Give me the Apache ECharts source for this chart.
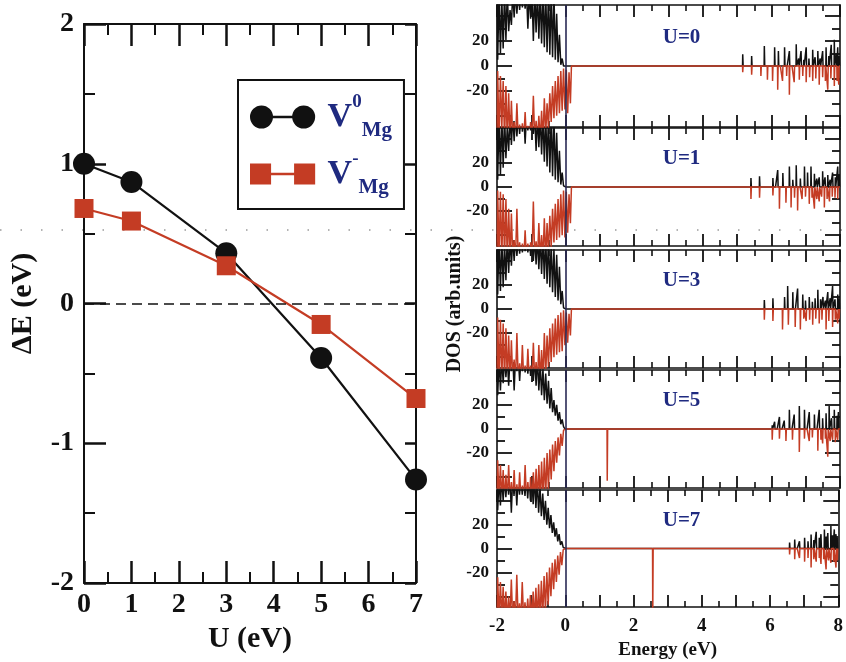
<!DOCTYPE html>
<html><head><meta charset="utf-8">
<script src="https://cdn.jsdelivr.net/npm/echarts@6/dist/echarts.min.js"></script>
<style>html,body{margin:0;padding:0;background:#fff}#c{width:846px;height:662px}</style>
</head><body><div id="c"></div>
<script>
// ---------------- data: left panel ----------------
const uValues   = [0, 1, 3, 5, 7];
const dENeutral = [1.00, 0.87, 0.36, -0.39, -1.26];   // V^0_Mg
const dECharged = [0.68, 0.59, 0.27, -0.15, -0.68];   // V^-_Mg

// ---------------- data: DOS panels ----------------
const panelLabels = ['U=0', 'U=1', 'U=3', 'U=5', 'U=7'];
const vbStart = -2.0, vbStep = 0.04;   // energy grid of the valence-band samples
// valence band, spin up (black)
const upU0 = [60,5,60,10,55,14,60,21,60,28,45,33,60,39,60,42,60,45,60,47,60,46,60,30,60,38,60,20,60,27,60,22,60,18,60,15,60,11,60,9,60,7,60,5,42,3,25,1,6,0,0];
const upU1 = [60,6,60,10,60,16,60,24,50,30,60,35,60,38,60,42,60,44,60,46,60,36,60,47,60,47,60,44,60,30,60,33,60,27,60,21,60,17,60,12,60,9,60,6,45,4,30,2,12,1,0];
const upU3 = [60,12,60,15,60,18,55,24,60,30,60,36,60,40,60,44,60,46,60,47,60,48,60,47,60,44,60,40,60,37,60,33,60,29,60,25,60,21,60,18,55,14,50,10,45,7,35,4,15,1,0];
const upU5 = [60,28,60,32,60,38,60,43,60,36,60,48,60,32,60,48,60,40,60,48,60,47,60,46,60,44,60,40,60,36,60,32,55,28,50,24,46,21,40,17,34,14,24,11,20,7,14,4,8,2,0];
const upU7 = [60,32,60,36,60,40,60,43,60,45,60,30,60,46,60,36,60,45,60,45,60,44,60,42,60,40,60,37,60,34,58,30,52,27,46,24,40,20,34,17,28,13,22,10,17,6,12,3,6,1,0];
// valence band, spin down (red)
const dnU0 = [-60,-4,-60,-8,-50,-12,-60,-16,-60,-22,-60,-28,-60,-45,-60,-30,-60,-47,-60,-46,-60,-37,-60,-48,-60,-45,-60,-24,-60,-44,-60,-40,-60,-36,-60,-26,-55,-30,-50,-22,-45,-16,-42,-12,-40,-8,-38,-4,-36,-2,-35,-3,-38,-5,-30];
const dnU1 = [-60,-3,-60,-4,-60,-6,-60,-10,-60,-18,-60,-22,-60,-44,-60,-18,-60,-46,-60,-47,-60,-36,-60,-47,-60,-46,-60,-12,-60,-45,-60,-30,-60,-40,-60,-26,-60,-30,-55,-24,-50,-18,-46,-14,-44,-10,-42,-6,-40,-3,-42,-4,-38,-6,-30];
const dnU3 = [-60,-7,-60,-9,-60,-12,-60,-16,-60,-22,-60,-26,-60,-42,-60,-20,-60,-45,-60,-30,-60,-47,-60,-33,-60,-47,-60,-28,-60,-44,-60,-30,-60,-34,-58,-20,-55,-22,-48,-16,-44,-12,-40,-8,-38,-5,-36,-3,-35,-1,-30,-3,-28,-4,-22];
const dnU5 = [-60,-26,-60,-30,-60,-34,-60,-38,-60,-30,-60,-44,-60,-34,-60,-46,-60,-36,-60,-47,-60,-30,-60,-44,-60,-40,-60,-36,-60,-33,-60,-30,-60,-27,-58,-24,-55,-20,-50,-17,-42,-13,-35,-10,-28,-7,-22,-4,-14,-1,0];
const dnU7 = [-60,-24,-60,-28,-60,-32,-60,-36,-60,-40,-60,-26,-60,-44,-60,-22,-60,-46,-60,-28,-60,-45,-60,-42,-60,-39,-60,-36,-60,-33,-60,-30,-60,-27,-57,-23,-52,-20,-47,-16,-40,-12,-34,-9,-28,-6,-22,-3,-14,-1,0];
// conduction band / gap states: [energy, DOS] peaks
const cbUpU0 = [[5.17,9.5],[5.43,8],[5.80,16],[6.10,15],[6.21,12],[6.39,15],[6.53,12],[6.73,17.5],[6.80,6],[6.87,12],[6.95,5],[7.02,15],[7.10,6],[7.21,13],[7.28,7],[7.36,12],[7.43,6],[7.50,12],[7.60,15],[7.68,8],[7.75,17],[7.84,21],[7.90,10],[7.94,15],[7.98,8]];
const cbDnU0 = [[5.17,-5],[5.43,-7],[5.70,-8],[5.89,-11],[6.04,-12],[6.19,-19],[6.33,-12],[6.45,-8],[6.53,-23],[6.67,-13],[6.82,-11],[6.92,-8],[7.02,-13],[7.12,-9],[7.21,-12],[7.30,-10],[7.40,-15],[7.50,-9],[7.58,-12],[7.65,-19],[7.74,-10],[7.84,-16],[7.92,-12],[7.97,-15]];
const cbUpU1 = [[5.41,7.5],[5.66,9],[6.05,7.5],[6.19,14],[6.34,11.6],[6.53,17],[6.63,6],[6.73,18],[6.85,7],[6.97,17],[7.06,12],[7.16,17],[7.26,11],[7.33,7],[7.40,8],[7.50,13],[7.57,8],[7.65,10],[7.72,6],[7.79,12],[7.87,8],[7.94,17],[7.98,10]];
const cbDnU1 = [[5.41,-10],[5.66,-9],[6.05,-7],[6.24,-18],[6.43,-13],[6.58,-17],[6.68,-9],[6.77,-19.5],[6.90,-10],[7.00,-8],[7.11,-14],[7.19,-9],[7.26,-18],[7.33,-10],[7.40,-12],[7.47,-8],[7.55,-17],[7.63,-10],[7.70,-12],[7.78,-8],[7.86,-9],[7.94,-10]];
const cbUpU3 = [[5.80,7.5],[6.05,9],[6.39,10],[6.48,19],[6.63,14],[6.77,17],[6.92,12],[7.00,7],[7.11,10],[7.20,6],[7.28,9],[7.36,16],[7.44,8],[7.51,10],[7.58,7],[7.65,14],[7.72,9],[7.79,19],[7.86,8],[7.94,12],[7.98,9]];
const cbDnU3 = [[5.80,-9],[6.05,-10],[6.33,-17],[6.50,-13],[6.70,-15],[6.85,-17],[6.95,-8],[7.02,-10],[7.12,-9],[7.21,-13],[7.30,-8],[7.40,-12],[7.48,-9],[7.60,-17],[7.68,-10],[7.79,-15],[7.87,-9],[7.94,-12],[7.98,-8]];
const cbUpU5 = [[6.03,3],[6.10,6],[6.24,10],[6.38,7],[6.53,16],[6.67,12],[6.82,19],[6.97,16],[7.11,14],[7.26,12],[7.40,16],[7.50,9],[7.60,13],[7.69,19],[7.76,9],[7.84,16],[7.92,11],[7.96,14]];
const cbDnU5 = [[1.22,-43],[6.03,-9],[6.24,-8],[6.43,-10],[6.62,-9],[6.82,-19],[6.97,-8],[7.11,-10],[7.20,-7],[7.36,-18],[7.45,-9],[7.50,-12],[7.58,-8],[7.65,-23],[7.72,-10],[7.79,-9],[7.87,-11],[7.94,-9]];
const cbUpU7 = [[6.58,5],[6.73,7.5],[6.87,6],[7.02,9],[7.12,6],[7.21,11.7],[7.29,7],[7.36,14],[7.45,9],[7.50,12],[7.60,16],[7.65,10],[7.70,13],[7.79,19],[7.84,11],[7.89,16],[7.94,12],[7.98,9]];
const cbDnU7 = [[2.57,-60],[6.58,-5],[6.73,-9],[6.87,-8],[7.02,-11],[7.12,-8],[7.21,-16],[7.29,-9],[7.36,-11],[7.45,-8],[7.50,-13],[7.58,-9],[7.65,-17.5],[7.72,-10],[7.79,-12],[7.87,-11],[7.94,-16],[7.98,-10]];
const dosMajorTicks = [-40, -20, 0, 20, 40];
const dosMinorTicks = [-30, -10, 10, 30];
const dosLabelTicks = [-20, 0, 20];

const upVB = [upU0, upU1, upU3, upU5, upU7];
const dnVB = [dnU0, dnU1, dnU3, dnU5, dnU7];
const upCB = [cbUpU0, cbUpU1, cbUpU3, cbUpU5, cbUpU7];
const dnCB = [cbDnU0, cbDnU1, cbDnU3, cbDnU5, cbDnU7];

// ---------------- layout / style ----------------
const SERIF = '"Liberation Serif", "DejaVu Serif", serif';
const INK = '#111111', RED = '#c43c24', NAVY = '#1f2a80';
const L = {left: 84, top: 24, width: 332, height: 559};
const D = {left: 497, width: 343, tops: [5, 128, 250, 370, 490], heights: [122, 118, 118, 118, 117]};
const DOS_MIN = -49, DOS_MAX = 49;

function buildDos(vb, cb) {
  const d = [];
  vb.forEach((v, i) => d.push([+(vbStart + vbStep * i).toFixed(2), v]));
  const lastE = vbStart + vbStep * (vb.length - 1);
  d.push([+(lastE + 0.02).toFixed(2), 0]);
  cb.forEach(([e, h]) => { d.push([e - 0.012, 0], [e, h], [e + 0.012, 0]); });
  d.push([8, 0]);
  return d;
}

const grids = [{left: L.left, top: L.top, width: L.width, height: L.height}];
D.tops.forEach((t, i) => grids.push({left: D.left, top: t, width: D.width, height: D.heights[i]}));

function leftAxis(kind, pos, majorLen, minorLen, extra) {
  const base = {gridIndex: 0, type: 'value', position: pos,
    axisLine: {show: true, onZero: false, lineStyle: {color: INK, width: 2}}, splitLine: {show: false},
    axisTick: {show: true, inside: true, length: majorLen, lineStyle: {color: INK, width: 2.5}},
    minorTick: {show: true, splitNumber: 2, length: minorLen, lineStyle: {color: INK, width: 2}},
    axisLabel: {show: false}};
  if (kind === 'x') Object.assign(base, {min: 0, max: 7, interval: 1});
  else Object.assign(base, {min: -2, max: 2, interval: 1});
  return Object.assign(base, extra || {});
}
const xAxes = [
  leftAxis('x', 'bottom', 22, 11, {
    axisLabel: {show: true, fontFamily: SERIF, fontWeight: 'bold', fontSize: 28, color: INK, margin: 8},
    name: 'U (eV)', nameLocation: 'middle', nameGap: 38,
    nameTextStyle: {fontFamily: SERIF, fontWeight: 'bold', fontSize: 30, color: INK}}),
  leftAxis('x', 'top', 22, 11)
];
const yAxes = [
  leftAxis('y', 'left', 22, 11, {
    axisLabel: {show: true, fontFamily: SERIF, fontWeight: 'bold', fontSize: 28, color: INK, margin: 10},
    name: 'ΔE (eV)', nameLocation: 'middle', nameGap: 46, nameRotate: 90,
    nameTextStyle: {fontFamily: SERIF, fontWeight: 'bold', fontSize: 30, color: INK}}),
  leftAxis('y', 'right', 11, 11)
];
const thin = {show: true, onZero: false, lineStyle: {color: INK, width: 1.6}};
const series = [
  {type: 'line', name: 'V0', xAxisIndex: 0, yAxisIndex: 0,
   data: uValues.map((u, i) => [u, dENeutral[i]]),
   symbol: 'circle', symbolSize: 22, itemStyle: {color: INK}, lineStyle: {color: INK, width: 2.2},
   markLine: {silent: true, symbol: ['none', 'none'], label: {show: false},
     lineStyle: {color: INK, type: [10, 6], width: 1.6}, data: [{yAxis: 0}]}, z: 3},
  {type: 'line', name: 'V-', xAxisIndex: 0, yAxisIndex: 0,
   data: uValues.map((u, i) => [u, dECharged[i]]),
   symbol: 'rect', symbolSize: 19, itemStyle: {color: RED}, lineStyle: {color: RED, width: 2.2}, z: 4}
];
const graphics = [
  {type: 'line', z: -1, shape: {x1: 0, y1: 230, x2: 846, y2: 230},
   style: {stroke: '#9a9a9a', lineWidth: 1.5, lineDash: [1.5, 19]}},
  {type: 'text', x: 455, y: 304, rotation: Math.PI / 2,
   style: {text: 'DOS (arb.units)', font: 'bold 20px ' + SERIF, fill: INK, textAlign: 'center', textVerticalAlign: 'middle'}}
];

D.tops.forEach((t, i) => {
  const g = i + 1;
  const last = i === D.tops.length - 1;
  const xB = {gridIndex: g, type: 'value', min: -2, max: 8, interval: 1, position: 'bottom',
    axisLine: thin, splitLine: {show: false},
    axisTick: {show: true, inside: true, length: 12, lineStyle: {color: INK, width: 1.8}},
    minorTick: {show: true, splitNumber: 2, length: 6, lineStyle: {color: INK, width: 1.6}},
    axisLabel: {show: last, formatter: v => (v % 2 === 0 ? String(v) : ''),
      fontFamily: SERIF, fontWeight: 'bold', fontSize: 19, color: INK, margin: 10}};
  if (last) Object.assign(xB, {name: 'Energy (eV)', nameLocation: 'middle', nameGap: 34,
    nameTextStyle: {fontFamily: SERIF, fontWeight: 'bold', fontSize: 19, color: INK}});
  const xT = {gridIndex: g, type: 'value', min: -2, max: 8, interval: 1, position: 'top',
    axisLine: thin, splitLine: {show: false},
    axisTick: {show: true, inside: true, length: 12, lineStyle: {color: INK, width: 1.8}},
    minorTick: {show: true, splitNumber: 2, length: 6, lineStyle: {color: INK, width: 1.6}},
    axisLabel: {show: false}};
  const xi = xAxes.length;
  xAxes.push(xB, xT);
  const yi = yAxes.length;
  const mk = (pos, ticks, len, withLine, withLabel) => ({gridIndex: g, type: 'value', min: DOS_MIN, max: DOS_MAX, position: pos,
    axisLine: withLine ? thin : {show: false, onZero: false}, splitLine: {show: false},
    axisTick: {show: true, inside: true, length: len, customValues: ticks, lineStyle: {color: INK, width: 1.8}},
    axisLabel: withLabel ? {customValues: dosLabelTicks, fontFamily: SERIF, fontWeight: 'bold', fontSize: 17, color: INK, margin: 8}
                         : {show: false}});
  yAxes.push(mk('left', dosMajorTicks, 15, true, true), mk('left', dosMinorTicks, 8, false, false),
             mk('right', dosMajorTicks, 15, true, false), mk('right', dosMinorTicks, 8, false, false));
  series.push({type: 'line', xAxisIndex: xi, yAxisIndex: yi, data: buildDos(upVB[i], upCB[i]),
    showSymbol: false, symbol: 'none', clip: true, step: 'middle', lineStyle: {color: INK, width: 1.5}, silent: true, z: 2,
    markLine: {silent: true, symbol: ['none', 'none'], label: {show: false},
      lineStyle: {color: '#2a2a55', type: 'solid', width: 1.6}, data: [{xAxis: 0}]}});
  series.push({type: 'line', xAxisIndex: xi, yAxisIndex: yi, data: buildDos(dnVB[i], dnCB[i]),
    showSymbol: false, symbol: 'none', clip: true, step: 'middle', lineStyle: {color: RED, width: 1.5}, silent: true, z: 3});
  const zeroY = t + D.heights[i] / 2;
  graphics.push({type: 'text', x: D.left + D.width * (3.38 + 2) / 10, y: zeroY - 28,
    style: {text: panelLabels[i], font: 'bold 21px ' + SERIF, fill: NAVY, textAlign: 'center', textVerticalAlign: 'middle'}});
});

const circPath = 'path://M0,12A12,12 0 1 1 24,12A12,12 0 1 1 0,12Z M22,10.8L46,10.8L46,13.2L22,13.2Z M44,12A12,12 0 1 1 68,12A12,12 0 1 1 44,12Z';
const rectPath = 'path://M0,1L22,1L22,23L0,23Z M22,10.8L46,10.8L46,13.2L22,13.2Z M46,1L68,1L68,23L46,23Z M0,0 M68,24';
const legendText = {'V0': '{v|V}{sup|0}{sub|Mg}', 'V-': '{v|V}{sup|-}{sub|Mg}'};

const chart = echarts.init(document.getElementById('c'), null, {renderer: 'canvas'});
chart.setOption({
  animation: false,
  backgroundColor: '#ffffff',
  grid: grids,
  xAxis: xAxes,
  yAxis: yAxes,
  series: series,
  legend: {
    data: [{name: 'V0', icon: circPath}, {name: 'V-', icon: rectPath}],
    orient: 'vertical', left: 238, top: 80, selectedMode: false,
    itemWidth: 66, itemHeight: 23, itemGap: 9,
    padding: [13, 12, 11, 12],
    borderColor: INK, borderWidth: 2, backgroundColor: '#ffffff',
    formatter: n => legendText[n],
    textStyle: {rich: {
      v:   {fontFamily: SERIF, fontWeight: 'bold', fontSize: 34, color: NAVY, lineHeight: 48, verticalAlign: 'middle', padding: [0, 0, 0, 7]},
      sup: {fontFamily: SERIF, fontWeight: 'bold', fontSize: 19, color: NAVY, lineHeight: 20, verticalAlign: 'top'},
      sub: {fontFamily: SERIF, fontWeight: 'bold', fontSize: 21, color: NAVY, lineHeight: 22, verticalAlign: 'bottom'}
    }}
  },
  graphic: graphics
});
</script></body></html>
